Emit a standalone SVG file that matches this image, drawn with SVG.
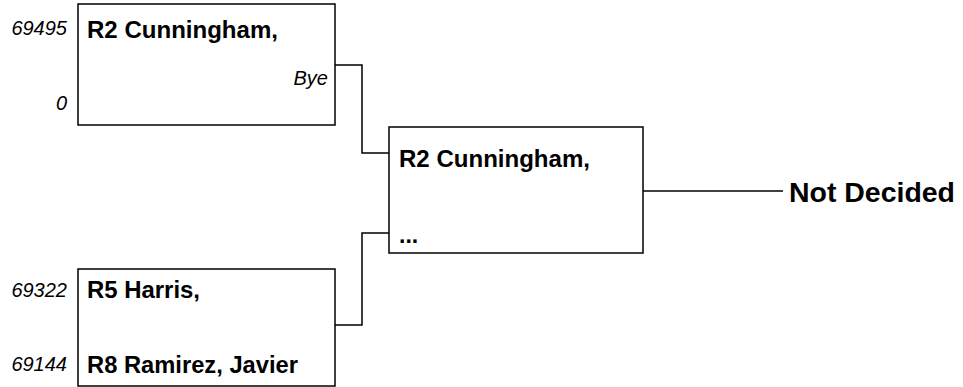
<svg xmlns="http://www.w3.org/2000/svg" width="963" height="387" viewBox="0 0 963 387">
<style>
.box{fill:#fff;stroke:#000;stroke-width:1.5}
.con{fill:none;stroke:#000;stroke-width:1.5}
.name{font-family:"Liberation Sans",Arial,sans-serif;font-weight:bold;font-size:23px;fill:#000}
.seed{font-family:"Liberation Sans",Arial,sans-serif;font-style:italic;font-size:20px;fill:#000}
.win{font-family:"Liberation Sans",Arial,sans-serif;font-weight:bold;font-size:27px;fill:#000}
</style>
<rect width="963" height="387" fill="#fff"/>
<g id="connectors">
<path class="con" d="M335,65 H362 V153 H389"/>
<path class="con" d="M389,233 H362 V325 H335"/>
<path class="con" d="M638,191 H783"/>
</g>
<g id="match1">
<rect class="box" x="78" y="4" width="257" height="121"/>
<text class="seed" x="67" y="35" text-anchor="end">69495</text>
<text class="name" x="87" y="38" textLength="191" lengthAdjust="spacingAndGlyphs">R2 Cunningham,</text>
<text class="seed" x="328" y="85" text-anchor="end">Bye</text>
<text class="seed" x="67" y="110" text-anchor="end">0</text>
</g>
<g id="match2">
<rect class="box" x="78" y="269" width="257" height="117"/>
<text class="seed" x="67" y="297" text-anchor="end">69322</text>
<text class="name" x="87" y="298" textLength="113" lengthAdjust="spacingAndGlyphs">R5 Harris,</text>
<text class="seed" x="67" y="371" text-anchor="end">69144</text>
<text class="name" x="87" y="373" textLength="211" lengthAdjust="spacingAndGlyphs">R8 Ramirez, Javier</text>
</g>
<g id="match3">
<rect class="box" x="389" y="127" width="254" height="126"/>
<text class="name" x="399" y="167" textLength="191" lengthAdjust="spacingAndGlyphs">R2 Cunningham,</text>
<text class="name" x="399" y="243">...</text>
</g>
<g id="result">
<text class="win" x="789" y="202" textLength="166" lengthAdjust="spacingAndGlyphs">Not Decided</text>
</g>
</svg>
